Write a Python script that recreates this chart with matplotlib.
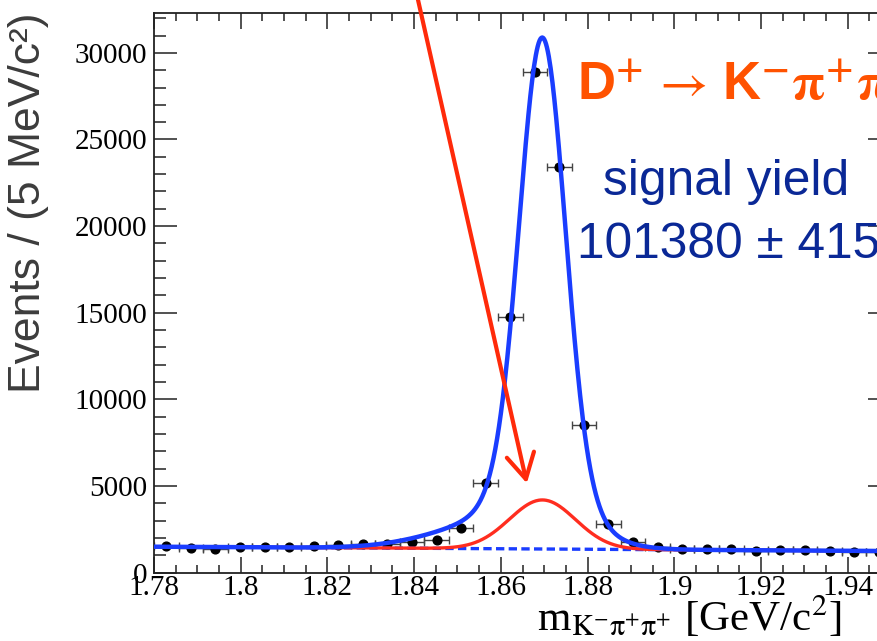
import numpy as np
import matplotlib.pyplot as plt
from matplotlib.ticker import MultipleLocator, FuncFormatter

plt.rcParams['mathtext.fontset'] = 'stix'

# K- pi+ pi+ invariant mass histogram
mass_lo, mass_hi, n_bins = 1.78, 1.95, 30
counts = [1540, 1410, 1370, 1500, 1500, 1460, 1540, 1600, 1640, 1640,
          1790, 1890, 2560, 5170, 14780, 28890, 23440, 8530, 2810, 1790,
          1500, 1350, 1350, 1370, 1270, 1310, 1310, 1270, 1210, 1200]

# fit result: linear background + D+ peak (core, wide and low-side tail gaussians)
bkg_ends = [1500, 1250]
d_mass = 1.8696
core_amp, core_sigma = 24600, 0.0052
wide_amp, wide_sigma = 1500, 0.011
tail_amp, tail_mean, tail_sigma = 1100, 1.855, 0.013
red_amp, red_sigma = 2830, 0.0076

decay_text = (r'D$^{\mathbf{+}}\/\rightarrow\,$K$^{\mathbf{-}}'
              r'\mathbf{\pi}^{\mathbf{+}}\mathbf{\pi}^{\mathbf{+}}$')
yield_label = 'signal yield'
yield_text = '101380 ± 415'


def gauss(x, amp, mu, sigma):
    return amp * np.exp(-0.5 * ((x - mu) / sigma) ** 2)


edges = np.linspace(mass_lo, mass_hi, n_bins + 1)
centers = 0.5 * (edges[:-1] + edges[1:])
half_w = 0.5 * (edges[1] - edges[0])
counts = np.array(counts, dtype=float)

xs = np.linspace(mass_lo, mass_hi, 800)
bkg = np.interp(xs, [mass_lo, mass_hi], bkg_ends)
red_curve = bkg + gauss(xs, red_amp, d_mass, red_sigma)
total = (red_curve + gauss(xs, core_amp, d_mass, core_sigma)
         + gauss(xs, wide_amp, d_mass, wide_sigma)
         + gauss(xs, tail_amp, tail_mean, tail_sigma))

W, H = 878, 641
fig = plt.figure(figsize=(W / 100, H / 100), dpi=100)
ax = fig.add_axes([154 / W, 68.3 / H, 737 / W, 559.7 / H])

ax.errorbar(centers, counts, xerr=half_w, yerr=np.sqrt(counts), fmt='o',
            color='black', ms=6.3, ecolor='#444444', elinewidth=1.0,
            capsize=2.8, capthick=1.0, zorder=2)
ax.plot(xs, bkg, color='#1a3dff', lw=2.4, dashes=(2.5, 1.3), zorder=3)
ax.plot(xs, red_curve, color='#ff2d1f', lw=2.4, zorder=4)
ax.plot(xs, total, color='#1a3dff', lw=3.2, zorder=5)

ax.set_xlim(mass_lo, mass_hi)
ax.set_ylim(0, 32300)

ax.xaxis.set_major_locator(MultipleLocator(0.02))
ax.xaxis.set_minor_locator(MultipleLocator(0.005))
ax.yaxis.set_major_locator(MultipleLocator(5000))
ax.yaxis.set_minor_locator(MultipleLocator(1000))
ax.xaxis.set_major_formatter(FuncFormatter(lambda v, p: '%g' % round(v, 3)))
ax.yaxis.set_major_formatter(FuncFormatter(lambda v, p: '%d' % v))

ax.tick_params(which='both', direction='in', top=True, right=True,
               width=1.1, color='#222222')
ax.tick_params(axis='x', which='major', length=11.5, pad=2)
ax.tick_params(axis='x', which='minor', length=5.8)
ax.tick_params(axis='y', which='major', length=16.5, pad=5)
ax.tick_params(axis='y', which='minor', length=8.6)
for lab in ax.get_xticklabels() + ax.get_yticklabels():
    lab.set_family('Liberation Serif')
    lab.set_fontsize(21)
for sp in ax.spines.values():
    sp.set_linewidth(1.3)
    sp.set_color('#222222')

# arrow pointing at the red component
ax.annotate('', xy=(1.866, 5160), xytext=(1.8387, 35500),
            arrowprops=dict(arrowstyle='->,head_length=0.9,head_width=0.5',
                            color='#ff2a0a', lw=3, shrinkA=0, shrinkB=0,
                            mutation_scale=20),
            annotation_clip=False, zorder=6)

fig.text(29 / W, 1 - 203 / H, 'Events / (5 MeV/c²)', rotation=90,
         ha='center', va='center', fontsize=32, color='#3c3c3c',
         family='Liberation Sans')
fig.text(842 / W, 1 - 631 / H,
         r'm$_{\mathrm{K}^{-}\mathrm{\pi}^{+}\mathrm{\pi}^{+}}$ [GeV/c$^{2}$]',
         ha='right', va='baseline', fontsize=31, family='Liberation Serif')

fig.text(577 / W, 1 - 100 / H, decay_text, ha='left', va='baseline',
         fontsize=38, fontweight='bold', color='#ff5200',
         family=['Liberation Sans', 'DejaVu Sans'])
fig.text(603 / W, 1 - 195 / H, yield_label, ha='left', va='baseline',
         fontsize=35.7, color='#0a2896', family='Liberation Sans')
fig.text(577 / W, 1 - 258 / H, yield_text, ha='left', va='baseline',
         fontsize=35.7, color='#0a2896', family='Liberation Sans')

fig.savefig('out.png', dpi=100)
